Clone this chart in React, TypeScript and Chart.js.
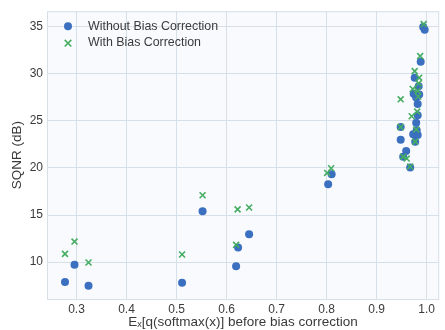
import React, { useEffect, useRef } from "react";
import { Chart, registerables } from "chart.js";

Chart.register(...registerables);

// Without bias correction (blue circles)
const withoutX = [0.277, 0.296, 0.324, 0.511, 0.552, 0.619, 0.623, 0.645, 0.803, 0.810,
  0.948, 0.948, 0.953, 0.959, 0.967, 0.973, 0.982, 0.977, 0.979, 0.980,
  0.982, 0.982, 0.979, 0.974, 0.985, 0.984, 0.976, 0.988, 0.993, 0.996];
const withoutY = [7.87, 9.70, 7.47, 7.79, 15.40, 9.56, 11.54, 12.96, 18.27, 19.33,
  24.35, 23.0, 21.2, 21.8, 20.05, 23.6, 23.5, 22.8, 24.8, 24.0,
  25.6, 26.8, 27.5, 27.9, 27.8, 28.7, 29.6, 31.3, 35.0, 34.7];

// With bias correction (green crosses)
const withX = [0.277, 0.296, 0.324, 0.511, 0.552, 0.619, 0.622, 0.645, 0.801, 0.809,
  0.948, 0.948, 0.953, 0.960, 0.967, 0.970, 0.977, 0.979, 0.981, 0.983,
  0.972, 0.982, 0.984, 0.985, 0.976, 0.987, 0.994];
const withY = [10.87, 12.18, 9.95, 10.8, 17.1, 11.83, 15.6, 15.8, 19.47, 19.97,
  27.3, 24.35, 21.2, 21.0, 20.15, 25.5, 22.8, 24.1, 26.0, 27.6,
  28.4, 28.2, 29.0, 29.6, 30.3, 31.9, 35.3];

const seriesNames = ["Without Bias Correction", "With Bias Correction"];
const xTicks = [0.3, 0.4, 0.5, 0.6, 0.7, 0.8, 0.9, 1.0];
const yTicks = [10, 15, 20, 25, 30, 35];
const xTitle = "E\u2093[q(softmax(x)] before bias correction";
const yTitle = "SQNR (dB)";

const BLUE = "#3b6fbf";
const GREEN = "#45ad62";
const GRID = "#d7dfe8";
const FONT = "'Liberation Sans', Arial, sans-serif";
const TEXT = "#3a3a3a";

export default function App() {
  const ref = useRef<HTMLCanvasElement | null>(null);

  useEffect(() => {
    const canvas = ref.current;
    if (!canvas) return;

    const bgPlugin = {
      id: "bgPlugin",
      beforeDraw(chart: any) {
        const { ctx, chartArea } = chart;
        ctx.save();
        ctx.fillStyle = "#ffffff";
        ctx.fillRect(0, 0, chart.width, chart.height);
        ctx.fillStyle = "#f8fafd";
        ctx.fillRect(chartArea.left, chartArea.top, chartArea.right - chartArea.left, chartArea.bottom - chartArea.top);
        ctx.restore();
      },
      afterDraw(chart: any) {
        const { ctx, chartArea } = chart;
        ctx.save();
        ctx.strokeStyle = GRID;
        ctx.lineWidth = 1;
        ctx.strokeRect(chartArea.left + 0.5, chartArea.top + 0.5, chartArea.right - chartArea.left - 1, chartArea.bottom - chartArea.top);
        // legend
        const lx = chartArea.left + 21;
        const tx = chartArea.left + 41;
        const y1 = chartArea.top + 15;
        const y2 = chartArea.top + 32;
        ctx.fillStyle = BLUE;
        ctx.beginPath();
        ctx.arc(lx, y1, 4, 0, Math.PI * 2);
        ctx.fill();
        ctx.strokeStyle = GREEN;
        ctx.lineWidth = 1.6;
        ctx.beginPath();
        ctx.moveTo(lx - 3.3, y2 - 3.3);
        ctx.lineTo(lx + 3.3, y2 + 3.3);
        ctx.moveTo(lx - 3.3, y2 + 3.3);
        ctx.lineTo(lx + 3.3, y2 - 3.3);
        ctx.stroke();
        ctx.fillStyle = TEXT;
        ctx.font = `12.4px ${FONT}`;
        ctx.textBaseline = "middle";
        ctx.textAlign = "left";
        ctx.fillText(seriesNames[0], tx, y1);
        ctx.fillText(seriesNames[1], tx, y2 - 1);
        ctx.restore();
      },
    };

    const chart = new Chart(canvas, {
      type: "scatter",
      data: {
        datasets: [
          {
            label: seriesNames[1],
            data: withX.map((x, i) => ({ x, y: withY[i] })),
            pointStyle: "crossRot",
            pointRadius: 4.2,
            pointBorderWidth: 1.6,
            borderColor: GREEN,
            backgroundColor: GREEN,
            order: 0,
          },
          {
            label: seriesNames[0],
            data: withoutX.map((x, i) => ({ x, y: withoutY[i] })),
            pointStyle: "circle",
            pointRadius: 4,
            pointBorderWidth: 0,
            borderColor: BLUE,
            backgroundColor: BLUE,
            order: 1,
          },
        ],
      },
      options: {
        responsive: false,
        animation: false,
        layout: { padding: { top: 10, right: 0, left: 0, bottom: 0 } },
        plugins: {
          legend: { display: false },
          tooltip: { enabled: false },
        },
        scales: {
          x: {
            type: "linear",
            min: 0.241,
            max: 1.025,
            afterBuildTicks(scale: any) {
              scale.ticks = xTicks.map((v) => ({ value: v }));
            },
            afterFit(scale: any) {
              scale.height = 31;
            },
            ticks: {
              padding: 3,
              color: TEXT,
              font: { family: FONT, size: 12 },
              callback: (v: any) => Number(v).toFixed(1),
            },
            grid: { color: GRID, drawTicks: false },
            border: { display: false },
            title: {
              display: true,
              text: xTitle,
              color: TEXT,
              font: { family: FONT, size: 13.5 },
              padding: { top: 0, bottom: 0 },
            },
          },
          y: {
            type: "linear",
            min: 6.07,
            max: 36.67,
            afterBuildTicks(scale: any) {
              scale.ticks = yTicks.map((v) => ({ value: v }));
            },
            afterFit(scale: any) {
              scale.width = 47;
            },
            ticks: {
              padding: 4,
              color: TEXT,
              font: { family: FONT, size: 12 },
            },
            grid: { color: GRID, drawTicks: false },
            border: { display: false },
            title: {
              display: true,
              text: yTitle,
              color: TEXT,
              font: { family: FONT, size: 13.5 },
              padding: { top: 9, bottom: 0 },
            },
          },
        },
      },
      plugins: [bgPlugin],
    });

    return () => chart.destroy();
  }, []);

  return (
    <div style={{ position: "fixed", left: 0, top: 0, width: 445, height: 330 }}>
      <canvas ref={ref} width={445} height={330} />
    </div>
  );
}
